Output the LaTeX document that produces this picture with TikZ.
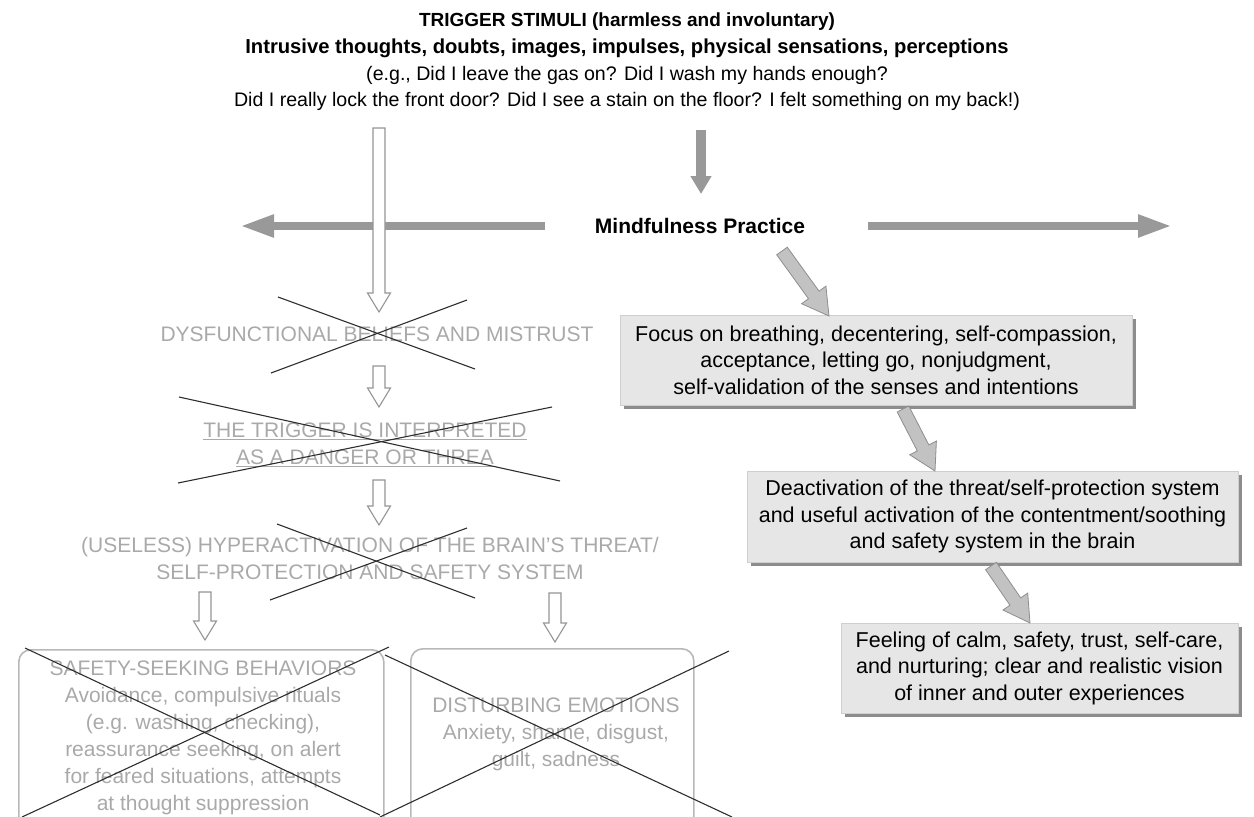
\documentclass[tikz,border=0pt]{standalone}
\usepackage{fontspec}
\setmainfont{Liberation Sans}
\usetikzlibrary{arrows.meta,calc,shadows}
\definecolor{txtgray}{HTML}{A9A9A9}
\definecolor{boxline}{HTML}{B8B8B8}
\definecolor{hollowgray}{HTML}{959595}
\definecolor{arrgray}{HTML}{999999}
\definecolor{diaggray}{HTML}{C2C2C2}
\definecolor{diagedge}{HTML}{8E8E8E}
\definecolor{boxfill}{HTML}{E6E6E6}
\definecolor{shadowgray}{HTML}{8C8C8C}
\definecolor{crossc}{HTML}{2E2E2E}
\newcommand\hollowdown[2]{\draw[openarr] let \p1=(#1), \p2=(#2) in
  ({\x1-6pt},\y1) -- ({\x1-6pt},{\y2+19pt}) -- ({\x1-11.5pt},{\y2+19pt}) -- (\x1,\y2)
  -- ({\x1+11.5pt},{\y2+19pt}) -- ({\x1+6pt},{\y2+19pt}) -- ({\x1+6pt},\y1) -- cycle;}
\newcommand\fatarrow[2]{%
  \coordinate (hb) at ($(#2)!26pt!(#1)$);
  \draw[fatarr] ($(#1)!6.5pt!90:(#2)$) -- ($(hb)!6.5pt!90:(#2)$) -- ($(hb)!15pt!90:(#2)$)
    -- (#2) -- ($(hb)!15pt!-90:(#2)$) -- ($(hb)!6.5pt!-90:(#2)$) -- ($(#1)!6.5pt!-90:(#2)$) -- cycle;}
\begin{document}
\begin{tikzpicture}[x=1pt,y=-1pt,
  toptxt/.style={font=\fontsize{19.6}{25}\selectfont, inner sep=0pt},
  topbold/.style={font=\bfseries\fontsize{20.2}{25}\selectfont, inner sep=0pt},
  graytxt/.style={text=txtgray, font=\fontsize{21}{27}\selectfont, align=center, inner sep=0pt},
  crossline/.style={draw=crossc, line width=1.1pt},
  openarr/.style={draw=hollowgray, line width=1.1pt, fill=white},
  grayarr/.style={draw=arrgray, line width=8pt, -{Triangle[length=34pt,width=21pt]}},
  downarr/.style={draw=arrgray, line width=10pt, -{Triangle[length=18pt,width=20pt]}},
  fatarr/.style={fill=diaggray, draw=diagedge, line width=0.8pt, line join=miter},
  shbox/.style={fill=boxfill, draw=boxfill!90!black, line width=0.4pt, align=center,
    font=\fontsize{21.5}{26.5}\selectfont, inner sep=0pt,
    drop shadow={shadow xshift=4pt, shadow yshift=-4pt, fill=shadowgray, opacity=1}},
  rbox/.style={draw=boxline, line width=1.6pt, rounded corners=12pt, inner sep=0pt}
]
\useasboundingbox (0,0) rectangle (1254,817);
\clip (0,0) rectangle (1254,817);

% top text
\node[topbold, font=\bfseries\fontsize{19}{25}\selectfont] (t1) at (627,22) {TRIGGER STIMULI (harmless and involuntary)};
\node[topbold] (t2) at (627,48) {Intrusive thoughts, doubts, images, impulses, physical sensations, perceptions};
\node[toptxt] (t3) at (627,75) {(e.g., Did I leave the gas on? Did I wash my hands enough?};
\node[toptxt] (t4) at (627,101) {Did I really lock the front door? Did I see a stain on the floor? I felt something on my back!)};

% mindfulness
\node[font=\bfseries\fontsize{21}{26}\selectfont, inner sep=0pt] (mp) at (700,226) {Mindfulness Practice};
\coordinate (dn0) at (701,130);
\coordinate (dn1) at (701,194);
\draw[downarr] (dn0) -- (dn1);
\coordinate (la0) at (545,226);
\coordinate (la1) at (240,226);
\draw[grayarr] (la0) -- (la1);
\coordinate (ra0) at (868,226);
\coordinate (ra1) at (1172,226);
\draw[grayarr] (ra0) -- (ra1);

% big hollow arrow
\coordinate (h0) at (379,128);
\coordinate (h1) at (379,312);
\hollowdown{h0}{h1}

% left gray column
\node[graytxt] (dysf) at (377,334) {DYSFUNCTIONAL BELIEFS AND MISTRUST};
\coordinate (h2) at (379,366);
\coordinate (h3) at (379,407);
\hollowdown{h2}{h3}
\node[graytxt] (trig) at (365,445) {\underline{THE TRIGGER IS INTERPRETED}\\\underline{AS A DANGER OR THREA}};
\coordinate (h4) at (379,480);
\coordinate (h5) at (379,525);
\hollowdown{h4}{h5}
\node[graytxt] (hyper) at (370,558) {(USELESS) HYPERACTIVATION OF THE BRAIN’S THREAT/\\SELF-PROTECTION AND SAFETY SYSTEM};
\coordinate (h6) at (205,592);
\coordinate (h7) at (205,640);
\hollowdown{h6}{h7}
\coordinate (h8) at (555,593);
\coordinate (h9) at (555,642);
\hollowdown{h8}{h9}

\node[rbox, minimum width=365pt, minimum height=190pt, anchor=north west] (safety) at (18,649) {};
\node[graytxt] (safetytxt) at (203,738) {SAFETY-SEEKING BEHAVIORS\\Avoidance, compulsive rituals\\(e.g. washing, checking),\\reassurance seeking, on alert\\for feared situations, attempts\\at thought suppression};
\node[rbox, minimum width=283pt, minimum height=190pt, anchor=north west] (emot) at (410,648) {};
\node[graytxt] (emottxt) at (556,734) {DISTURBING EMOTIONS\\Anxiety, shame, disgust,\\guilt, sadness};

% crosses
\coordinate (c1a) at (278,297); \coordinate (c1b) at (475,369);
\coordinate (c1c) at (271,373); \coordinate (c1d) at (467,300);
\draw[crossline] (c1a) -- (c1b); \draw[crossline] (c1c) -- (c1d);
\coordinate (c2a) at (179,397); \coordinate (c2b) at (560,481);
\coordinate (c2c) at (178,483); \coordinate (c2d) at (552,407);
\draw[crossline] (c2a) -- (c2b); \draw[crossline] (c2c) -- (c2d);
\coordinate (c3a) at (277,524); \coordinate (c3b) at (475,598);
\coordinate (c3c) at (270,600); \coordinate (c3d) at (467,528);
\draw[crossline] (c3a) -- (c3b); \draw[crossline] (c3c) -- (c3d);
\coordinate (c4a) at (25,648); \coordinate (c4b) at (380,815);
\coordinate (c4c) at (22,817); \coordinate (c4d) at (389,647);
\draw[crossline] (c4a) -- (c4b); \draw[crossline] (c4c) -- (c4d);
\coordinate (c5a) at (385,655); \coordinate (c5b) at (732,817);
\coordinate (c5c) at (380,817); \coordinate (c5d) at (729,651);
\draw[crossline] (c5a) -- (c5b); \draw[crossline] (c5c) -- (c5d);

% right column
\node[shbox, minimum width=512pt, minimum height=90pt] (focus) at (876,360)
  {Focus on breathing, decentering, self-compassion,\\acceptance, letting go, nonjudgment,\\self-validation of the senses and intentions};
\node[shbox, minimum width=491pt, minimum height=91pt] (deact) at (992.5,516.5)
  {Deactivation of the threat/self-protection system\\and useful activation of the contentment/soothing\\and safety system in the brain};
\node[shbox, minimum width=397pt, minimum height=90pt] (feel) at (1039.5,668)
  {Feeling of calm, safety, trust, self-care,\\and nurturing; clear and realistic vision\\of inner and outer experiences};

\coordinate (d1a) at (782,251); \coordinate (d1b) at (829,316);
\fatarrow{d1a}{d1b}
\coordinate (d2a) at (903,409); \coordinate (d2b) at (935,471);
\fatarrow{d2a}{d2b}
\coordinate (d3a) at (991,566); \coordinate (d3b) at (1030,623);
\fatarrow{d3a}{d3b}
\end{tikzpicture}
\end{document}
